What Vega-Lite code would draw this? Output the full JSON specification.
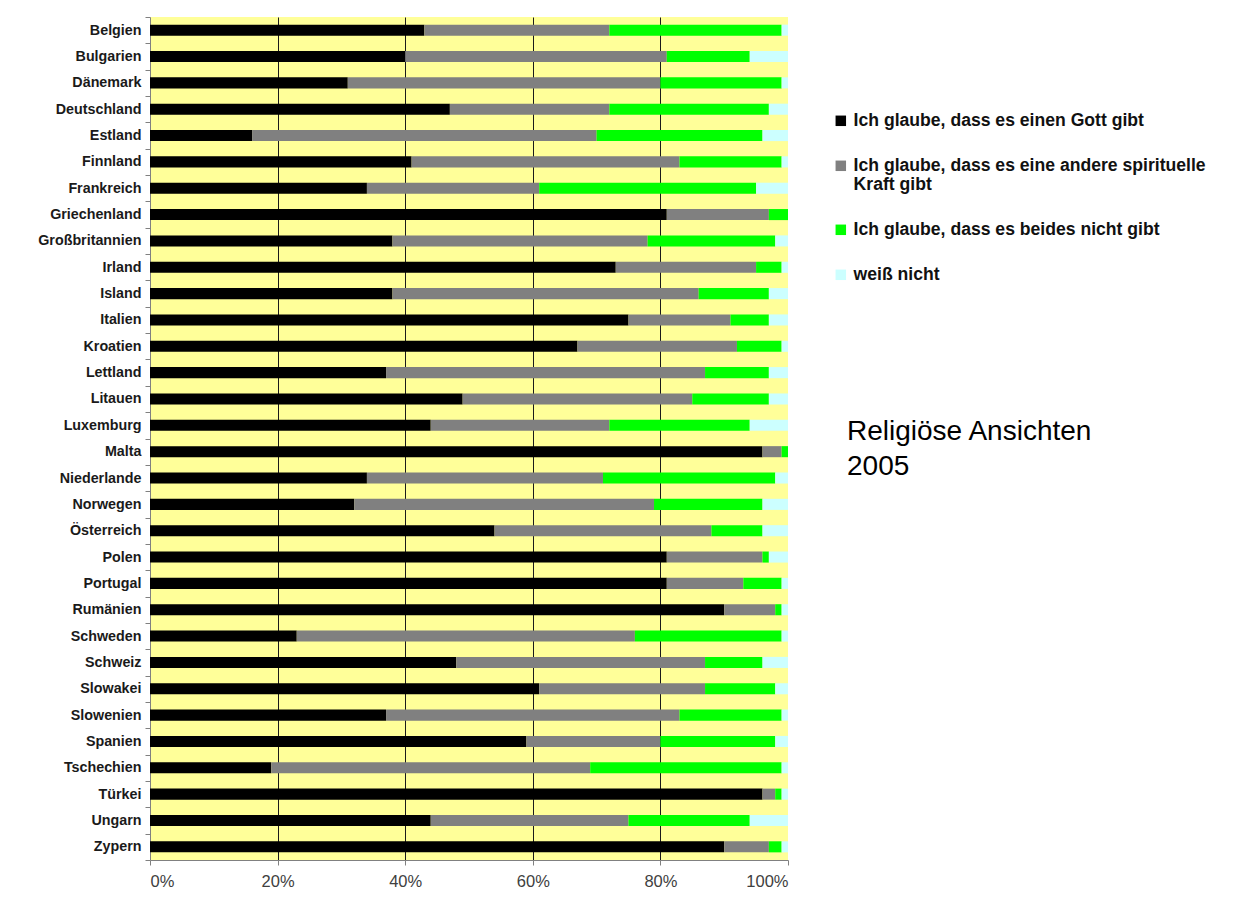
{
  "$schema": "https://vega.github.io/schema/vega-lite/v6.json",
  "width": 638,
  "height": 843,
  "autosize": {"type": "none"},
  "padding": {"left": 150, "top": 17, "right": 472, "bottom": 42},
  "background": "white",
  "config": {
    "view": {"fill": "#FFFF99", "stroke": null},
    "font": "Liberation Sans"
  },
  "title": {
    "text": ["Religiöse Ansichten", "2005"],
    "orient": "top",
    "anchor": "start",
    "frame": "group",
    "font": "Liberation Sans",
    "fontSize": 28,
    "fontWeight": "normal",
    "color": "#000000",
    "lineHeight": 35,
    "dx": 697,
    "dy": 475
  },
  "data": {
    "values": [
      {"Land": "Belgien", "Gott": 43, "Kraft": 29, "Keines": 27, "Unklar": 1},
      {"Land": "Bulgarien", "Gott": 40, "Kraft": 41, "Keines": 13, "Unklar": 6},
      {"Land": "Dänemark", "Gott": 31, "Kraft": 49, "Keines": 19, "Unklar": 1},
      {"Land": "Deutschland", "Gott": 47, "Kraft": 25, "Keines": 25, "Unklar": 3},
      {"Land": "Estland", "Gott": 16, "Kraft": 54, "Keines": 26, "Unklar": 4},
      {"Land": "Finnland", "Gott": 41, "Kraft": 42, "Keines": 16, "Unklar": 1},
      {"Land": "Frankreich", "Gott": 34, "Kraft": 27, "Keines": 34, "Unklar": 5},
      {"Land": "Griechenland", "Gott": 81, "Kraft": 16, "Keines": 3, "Unklar": 0},
      {"Land": "Großbritannien", "Gott": 38, "Kraft": 40, "Keines": 20, "Unklar": 2},
      {"Land": "Irland", "Gott": 73, "Kraft": 22, "Keines": 4, "Unklar": 1},
      {"Land": "Island", "Gott": 38, "Kraft": 48, "Keines": 11, "Unklar": 3},
      {"Land": "Italien", "Gott": 75, "Kraft": 16, "Keines": 6, "Unklar": 3},
      {"Land": "Kroatien", "Gott": 67, "Kraft": 25, "Keines": 7, "Unklar": 1},
      {"Land": "Lettland", "Gott": 37, "Kraft": 50, "Keines": 10, "Unklar": 3},
      {"Land": "Litauen", "Gott": 49, "Kraft": 36, "Keines": 12, "Unklar": 3},
      {"Land": "Luxemburg", "Gott": 44, "Kraft": 28, "Keines": 22, "Unklar": 6},
      {"Land": "Malta", "Gott": 96, "Kraft": 3, "Keines": 1, "Unklar": 0},
      {"Land": "Niederlande", "Gott": 34, "Kraft": 37, "Keines": 27, "Unklar": 2},
      {"Land": "Norwegen", "Gott": 32, "Kraft": 47, "Keines": 17, "Unklar": 4},
      {"Land": "Österreich", "Gott": 54, "Kraft": 34, "Keines": 8, "Unklar": 4},
      {"Land": "Polen", "Gott": 81, "Kraft": 15, "Keines": 1, "Unklar": 3},
      {"Land": "Portugal", "Gott": 81, "Kraft": 12, "Keines": 6, "Unklar": 1},
      {"Land": "Rumänien", "Gott": 90, "Kraft": 8, "Keines": 1, "Unklar": 1},
      {"Land": "Schweden", "Gott": 23, "Kraft": 53, "Keines": 23, "Unklar": 1},
      {"Land": "Schweiz", "Gott": 48, "Kraft": 39, "Keines": 9, "Unklar": 4},
      {"Land": "Slowakei", "Gott": 61, "Kraft": 26, "Keines": 11, "Unklar": 2},
      {"Land": "Slowenien", "Gott": 37, "Kraft": 46, "Keines": 16, "Unklar": 1},
      {"Land": "Spanien", "Gott": 59, "Kraft": 21, "Keines": 18, "Unklar": 2},
      {"Land": "Tschechien", "Gott": 19, "Kraft": 50, "Keines": 30, "Unklar": 1},
      {"Land": "Türkei", "Gott": 96, "Kraft": 2, "Keines": 1, "Unklar": 1},
      {"Land": "Ungarn", "Gott": 44, "Kraft": 31, "Keines": 19, "Unklar": 6},
      {"Land": "Zypern", "Gott": 90, "Kraft": 7, "Keines": 2, "Unklar": 1}
    ]
  },
  "transform": [
    {"fold": ["Gott", "Kraft", "Keines", "Unklar"], "as": ["Antwort", "Prozent"]},
    {"calculate": "indexof(['Gott', 'Kraft', 'Keines', 'Unklar'], datum.Antwort)", "as": "Reihenfolge"}
  ],
  "mark": {"type": "bar", "height": {"band": 0.42}},
  "encoding": {
    "y": {
      "field": "Land",
      "type": "nominal",
      "sort": null,
      "scale": {"paddingInner": 0, "paddingOuter": 0},
      "axis": {
        "title": null,
        "labelFont": "Liberation Sans",
        "labelFontSize": 14.3,
        "labelFontWeight": "bold",
        "labelColor": "#1a1a1a",
        "labelPadding": 4,
        "tickBand": "extent",
        "tickSize": 5,
        "tickColor": "#808080",
        "domainColor": "#808080",
        "grid": false
      }
    },
    "x": {
      "field": "Prozent",
      "type": "quantitative",
      "stack": "zero",
      "scale": {"domain": [0, 100], "nice": false},
      "axis": {
        "title": null,
        "values": [0, 20, 40, 60, 80, 100],
        "labelExpr": "datum.value + '%'",
        "labelFont": "Liberation Sans",
        "labelFontSize": 16.5,
        "labelColor": "#404040",
        "labelPadding": 8,
        "tickSize": 5,
        "tickColor": "#808080",
        "domainColor": "#808080",
        "grid": true,
        "gridColor": "#1a1a1a",
        "gridOpacity": {"condition": {"test": "datum.value > 0 && datum.value < 100", "value": 1}, "value": 0}
      }
    },
    "color": {
      "field": "Antwort",
      "type": "nominal",
      "scale": {
        "domain": ["Gott", "Kraft", "Keines", "Unklar"],
        "range": ["#000000", "#808080", "#00FF00", "#CCFFFF"]
      },
      "legend": {
        "orient": "none",
        "legendX": 682,
        "legendY": 95,
        "title": null,
        "symbolType": "square",
        "symbolSize": 110,
        "symbolStrokeWidth": 0,
        "labelFont": "Liberation Sans",
        "labelFontSize": 17.6,
        "labelFontWeight": "bold",
        "labelColor": "#111111",
        "labelLimit": 500,
        "labelOffset": 4,
        "rowPadding": 26,
        "labelExpr": "datum.label == 'Gott' ? 'Ich glaube, dass es einen Gott gibt' : datum.label == 'Kraft' ? ['Ich glaube, dass es eine andere spirituelle', 'Kraft gibt'] : datum.label == 'Keines' ? 'Ich glaube, dass es beides nicht gibt' : 'weiß nicht'"
      }
    },
    "order": {"field": "Reihenfolge"}
  }
}
